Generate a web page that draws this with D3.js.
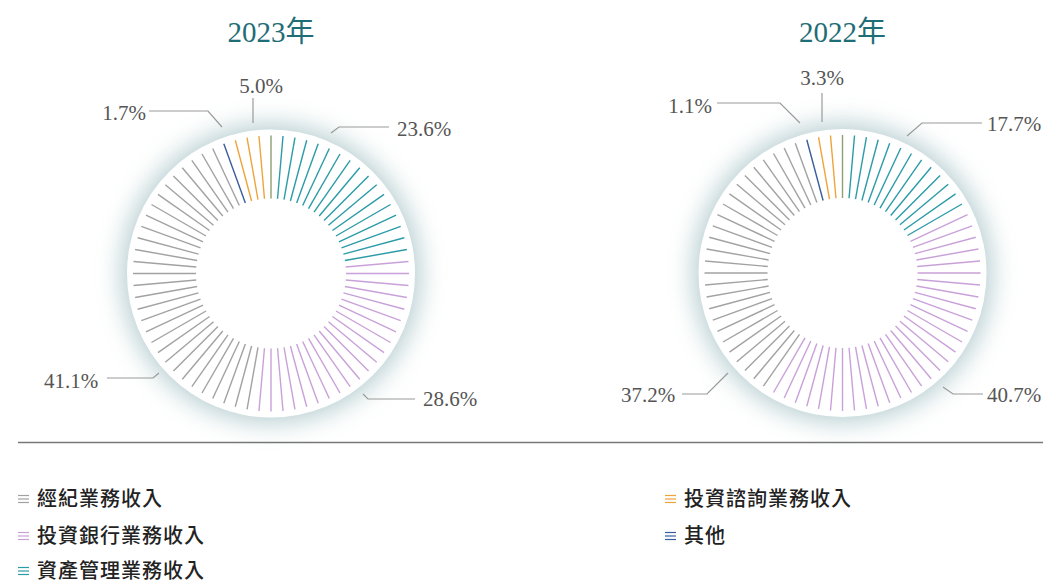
<!DOCTYPE html>
<html lang="zh-Hant">
<head>
<meta charset="UTF-8">
<script src="https://d3js.org/d3.v7.min.js"></script>
<title>收入結構</title>
<style>
  body { margin: 0; background: #fff; }
  svg { display: block; }
</style>
</head>
<body>
<div id="chart"></div>
<script>
// data
var categories = ["經紀業務收入", "投資銀行業務收入", "資產管理業務收入", "投資諮詢業務收入", "其他"];
var years = ["2023年", "2022年"];
var values2023 = [41.1, 28.6, 23.6, 5.0, 1.7];
var values2022 = [37.2, 40.7, 17.7, 3.3, 1.1];
// clockwise order from 12 o'clock
var ringOrder = [2, 1, 0, 4, 3];
var colors = ["#a2a2a2", "#c9a1d9", "#2b9ba7", "#eea43a", "#3a5e9b"];

var width = 1043, height = 583;
var svg = d3.select("#chart").append("svg").attr("width", width).attr("height", height);

var defs = svg.append("defs");
var f = defs.append("filter").attr("id", "glow").attr("x", "-40%").attr("y", "-40%").attr("width", "180%").attr("height", "180%");
f.append("feGaussianBlur").attr("stdDeviation", 12);

var color = d3.scaleOrdinal().domain(d3.range(categories.length)).range(colors);

// layout of each donut and its label callouts (positions only)
var charts = [
  { values: values2023, title: years[0], cx: 271, cy: 273.5,
    labels: {
      2: { tx: 424, ty: 136, pts: [[331, 133], [339, 127], [389, 127]] },
      1: { tx: 450, ty: 406, pts: [[363, 394], [368, 399], [415, 399]] },
      0: { tx: 71, ty: 388, pts: [[159, 373], [153, 378], [107, 378]] },
      4: { tx: 124, ty: 120, pts: [[222, 127], [208, 111], [149, 111]] },
      3: { tx: 261, ty: 93, pts: [[253, 123], [253, 98]] }
    } },
  { values: values2022, title: years[1], cx: 842.5, cy: 273,
    labels: {
      2: { tx: 1014, ty: 131, pts: [[907, 136], [922, 123], [982, 123]] },
      1: { tx: 1014, ty: 402, pts: [[943, 387], [953, 394], [983, 394]] },
      0: { tx: 648, ty: 402, pts: [[728, 373], [707, 394], [682, 394]] },
      4: { tx: 690, ty: 113, pts: [[800, 123], [780, 103], [717, 103]] },
      3: { tx: 822, ty: 85, pts: [[822, 122], [822, 93]] }
    } }
];

var rDisk = 144, rIn = 75, rOut = 138, nLines = 72;
var pie = d3.pie().sort(null).value(function(d) { return d.v; });
var angle = d3.scaleLinear().domain([0, nLines]).range([0, 2 * Math.PI]);

charts.forEach(function(c) {
  var g = svg.append("g").attr("transform", "translate(" + c.cx + "," + c.cy + ")");

  svg.append("text")
    .attr("x", c.cx).attr("y", 42)
    .attr("text-anchor", "middle")
    .attr("font-family", "'Liberation Serif', 'DejaVu Serif', 'Noto Sans CJK TC', serif")
    .attr("font-size", 29)
    .attr("fill", "#1f6d77")
    .text(c.title);

  g.append("circle").attr("r", rDisk + 6).attr("fill", "#a9c4c8").attr("opacity", 0.8).attr("filter", "url(#glow)");
  g.append("circle").attr("r", rDisk).attr("fill", "#fff");

  var arcs = pie(ringOrder.map(function(i) { return { i: i, v: c.values[i] }; }));
  var first = arcs[0].data.i, last = arcs[arcs.length - 1].data.i;

  var lines = d3.range(nLines).map(function(k) {
    var a = angle(k);
    var seg = arcs.find(function(s) { return a >= s.startAngle && a < s.endAngle; }) || arcs[arcs.length - 1];
    var col = k === 0 ? d3.interpolateRgb(color(first), color(last))(0.5) : color(seg.data.i);
    return { a: a, col: col };
  });

  g.selectAll("line.spoke").data(lines).enter().append("line")
    .attr("class", "spoke")
    .attr("x1", function(d) { return rIn * Math.sin(d.a); })
    .attr("y1", function(d) { return -rIn * Math.cos(d.a); })
    .attr("x2", function(d) { return rOut * Math.sin(d.a); })
    .attr("y2", function(d) { return -rOut * Math.cos(d.a); })
    .attr("stroke", function(d) { return d.col; })
    .attr("stroke-width", 1.4);

  // callouts
  var lineGen = d3.line();
  arcs.forEach(function(s) {
    var L = c.labels[s.data.i];
    svg.append("path").attr("d", lineGen(L.pts))
      .attr("fill", "none").attr("stroke", "#9a9a9a").attr("stroke-width", 1.2);
    svg.append("text")
      .attr("x", L.tx).attr("y", L.ty)
      .attr("text-anchor", "middle")
      .attr("font-family", "'Liberation Serif', 'DejaVu Serif', serif")
      .attr("font-size", 21)
      .attr("fill", "#555")
      .text(d3.format(".1f")(s.data.v) + "%");
  });
});

// divider
svg.append("line").attr("x1", 18).attr("x2", width).attr("y1", 442.5).attr("y2", 442.5)
  .attr("stroke", "#777").attr("stroke-width", 1.6);

// legend
var legendPos = [
  { x: 18, y: 499 }, { x: 18, y: 536 }, { x: 18, y: 571 },
  { x: 665, y: 499 }, { x: 665, y: 536 }
];
var legend = svg.selectAll("g.legend").data(categories).enter().append("g")
  .attr("class", "legend")
  .attr("transform", function(d, i) { return "translate(" + legendPos[i].x + "," + legendPos[i].y + ")"; });

legend.each(function(d, i) {
  var lg = d3.select(this);
  [-3.5, 0, 3.5].forEach(function(dy) {
    lg.append("line").attr("x1", 0).attr("x2", 11).attr("y1", dy).attr("y2", dy)
      .attr("stroke", color(i)).attr("stroke-width", 1.2);
  });
  lg.append("text")
    .attr("x", 19).attr("y", 7)
    .attr("font-family", "'Noto Sans CJK TC', 'Noto Sans', sans-serif")
    .attr("font-size", 20)
    .attr("letter-spacing", 1)
    .attr("font-weight", 500)
    .attr("fill", "#222")
    .text(d);
});
</script>
</body>
</html>
